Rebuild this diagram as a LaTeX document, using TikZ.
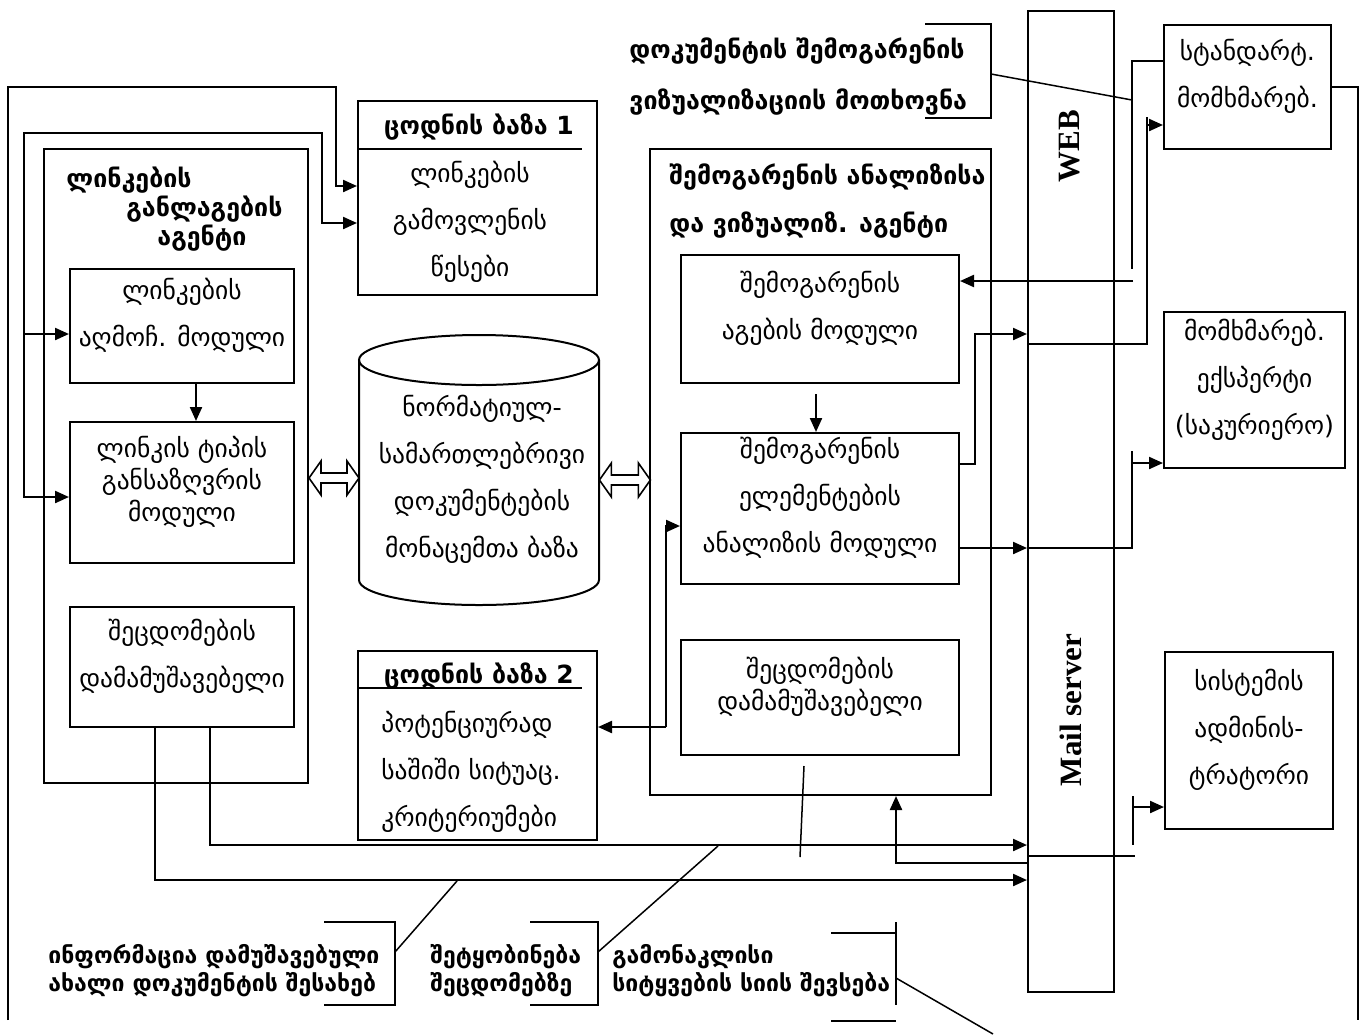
\documentclass[tikz,border=0pt]{standalone}
\usepackage{fontspec}
\newfontfamily\geo{DejaVu Sans}
\newfontfamily\rom{Liberation Serif}
\usetikzlibrary{arrows.meta,fit}
\tikzset{box/.style={draw,line width=1pt,inner sep=0pt,align=center,font=\geo\fontsize{12.75}{23.5}\selectfont},
         tightbox/.style={box,font=\geo\fontsize{12.75}{16}\selectfont},
         txt/.style={inner sep=0pt,align=center,font=\geo\fontsize{12.75}{23.5}\selectfont},
         ttl/.style={inner sep=0pt,align=left,font=\geo\bfseries\fontsize{12.5}{14.5}\selectfont},
         note/.style={inner sep=0pt,align=left,anchor=west,font=\geo\bfseries\fontsize{11.5}{14}\selectfont},
         vlab/.style={inner sep=0pt,rotate=90,font=\rom\bfseries\fontsize{15.5}{16}\selectfont},
         arr/.style={-{Triangle[length=7pt,width=6pt]},line width=1.1pt},
         ln/.style={line width=1pt},
         cline/.style={line width=0.75pt}}
\newcommand\dblarrow[2]{\draw[line width=0.8pt,fill=white] #1 -- ++(12,-17) -- ++(0,12) -- ++(#2,0) -- ++(0,-12) -- ++(12,17) -- ++(-12,17) -- ++(0,-12) -- ++(-#2,0) -- ++(0,12) -- cycle;}

\begin{document}
\begin{tikzpicture}[x=0.5pt,y=-0.5pt]
 \useasboundingbox (0,0) rectangle (1365,1034);
 % link layout agent
 \node[box,fit={(44,149)(308,783)}] (lnkagent) {};
 \node[ttl,anchor=west] (lnkagentttl) at (66,209) {ლინკების\\\hspace*{30pt}განლაგების\\\hspace*{45.5pt}აგენტი};
 \node[box,fit={(70,269)(294,383)}] (lnkfind) {ლინკების\\აღმოჩ. მოდული};
 \node[tightbox,fit={(70,422)(294,563)}] (lnktype) {ლინკის ტიპის\\განსაზღვრის\\მოდული};
 \node[box,fit={(70,607)(294,727)}] (err1) {შეცდომების\\დამამუშავებელი};
 % knowledge bases and database
 \node[box,fit={(358,101)(597,295)}] (kb1) {};
 \node[ttl] (kb1ttl) at (479,127) {ცოდნის ბაზა 1};
 \draw[ln] (kb1.west |- 0,149) -- (582,149);
 \node[txt] (kb1txt) at (470,222) {ლინკების\\გამოვლენის\\წესები};
 \node[box,fit={(358,651)(597,840)}] (kb2) {};
 \node[ttl] (kb2ttl) at (479,676) {ცოდნის ბაზა 2};
 \draw[ln] (kb2.west |- 0,688) -- (582,688);
 \node[txt,align=left,anchor=west] (kb2txt) at (381,772) {პოტენციურად\\საშიში სიტუაც.\\კრიტერიუმები};
 \node[fit={(359,335)(599,605)},inner sep=0pt] (normdb) {};
 \draw[ln] (359,360) -- (359,580) arc[start angle=180,end angle=0,x radius=120,y radius=25] -- (599,360);
 \draw[ln] (479,360) ellipse[x radius=120,y radius=25];
 \node[txt] (normdbtxt) at (482,479) {ნორმატიულ-\\სამართლებრივი\\დოკუმენტების\\მონაცემთა ბაზა};
 \dblarrow{(lnkagent.east |- 0,478)}{26}
 \dblarrow{(normdb.east |- 0,480)}{27}
 % surroundings agent
 \node[box,fit={(650,149)(991,795)}] (envagent) {};
 \node[ttl,anchor=west,font=\geo\bfseries\fontsize{12.5}{24}\selectfont] (envagentttl) at (669,201) {შემოგარენის ანალიზისა\\და ვიზუალიზ. აგენტი};
 \node[box,fit={(681,255)(959,383)}] (envbuild) {შემოგარენის\\აგების მოდული};
 \node[box,fit={(681,433)(959,584)}] (envan) {შემოგარენის\\ელემენტების\\ანალიზის მოდული};
 \node[tightbox,fit={(681,640)(959,755)}] (err2) {შეცდომების\\დამამუშავებელი};
 % server column and users
 \node[box,fit={(1028,11)(1114,992)}] (srv) {};
 \node[vlab] (weblab) at (1070,146) {WEB};
 \node[vlab] (maillab) at (1071,710) {Mail server};
 \node[box,fit={(1164,25)(1331,149)}] (stduser) {სტანდარტ.\\მომხმარებ.};
 \node[box,fit={(1164,312)(1345,468)}] (expert) {მომხმარებ.\\ექსპერტი\\(საკურიერო)};
 \node[box,align=left,fit={(1165,652)(1333,829)}] (admin) {სისტემის\\ადმინის-\\ტრატორი};
 % notes
 \node[ttl,anchor=west,font=\geo\bfseries\fontsize{12.5}{25.5}\selectfont] (reqnote) at (629,77) {დოკუმენტის შემოგარენის\\ვიზუალიზაციის მოთხოვნა};
 \node[note] (infonote) at (48,971) {ინფორმაცია დამუშავებული\\ახალი დოკუმენტის შესახებ};
 \node[note] (errnote) at (430,971) {შეტყობინება\\შეცდომებზე};
 \node[note] (excnote) at (612,971) {გამონაკლისი\\სიტყვების სიის შევსება};
 \draw[cline] (925,24) -| (991,118) -- (925,118);
 \draw[cline] (324,922) -| (395,1005) -- (324,1005);
 \draw[cline] (530,922) -| (598,1005) -- (530,1005);
 \draw[cline] (831,933) -- (896,933) (896,922) -- (896,1005) (831,1021) -- (896,1021);
 \coordinate (reqtip) at (991,74);  \coordinate (reqend) at (1132,100);
 \coordinate (infotip) at (395,952); \coordinate (infoend) at (457,881);
 \coordinate (errtip) at (598,952);  \coordinate (errend) at (718,846);
 \coordinate (exctip) at (896,978);  \coordinate (excend) at (993,1034);
 \draw[cline] (reqtip) -- (reqend);
 \draw[cline] (infotip) -- (infoend);
 \draw[cline] (errtip) -- (errend);
 \draw[cline] (exctip) -- (excend);
 % connectors
 \coordinate (loopA) at (8,1020);
 \coordinate (loopB) at (24,334);
 \draw[arr] (loopA) |- (336,87) |- (kb1.west |- 0,186);
 \draw[arr] (loopB) |- (322,133) |- (kb1.west |- 0,223);
 \draw[arr] (loopB) -- (lnkfind.west |- loopB);
 \draw[arr] (loopB) |- (lnktype.west |- 0,497);
 \draw[arr] ([xshift=7pt]lnkfind.south) -- ([xshift=7pt]lnktype.north);
 \draw[arr] (err1.south -| 155,0) |- (srv.west |- 0,880);
 \draw[arr] (err1.south -| 210,0) |- (srv.west |- 0,845);
 \coordinate (buildout) at (816,394);
 \draw[arr] (buildout) -- (envan.north -| buildout);
 \coordinate (kblink) at (666,727);
 \draw[arr] (kblink) |- (envan.west |- 0,526);
 \draw[arr] (kblink) -- (kb2.east |- kblink);
 \draw[arr] (envan.east |- 0,464) -| (975,334) -- (srv.west |- 0,334);
 \draw[arr] (envan.east |- 0,548) -- (srv.west |- 0,548);
 \draw[ln] (srv.west |- 0,548) -| (1132,451);
 \draw[arr] (1132,463) -- (expert.west |- 0,463);
 \coordinate (webin) at (1133,281);
 \draw[arr] (webin) -- (envbuild.east |- webin);
 \draw[ln] (stduser.west |- 0,61) -| (1132,269);
 \draw[ln] (srv.west |- 0,344) -| (1147,117);
 \draw[arr] (1147,125) -- (stduser.west |- 0,125);
 \draw[ln] (stduser.east |- 0,87) -| (1358,1020);
 \coordinate (err2out) at (804,766);
 \draw[cline] (err2out) -- (800,857);
 \draw[arr] (srv.west |- 0,863) -| (envagent.south -| 896,0);
 \draw[ln] (srv.west |- 0,856) -- (1135,856);
 \draw[ln] (1133,796) -- (1133,845);
 \draw[arr] (1133,807) -- (admin.west |- 0,807);
\end{tikzpicture}
\end{document}
